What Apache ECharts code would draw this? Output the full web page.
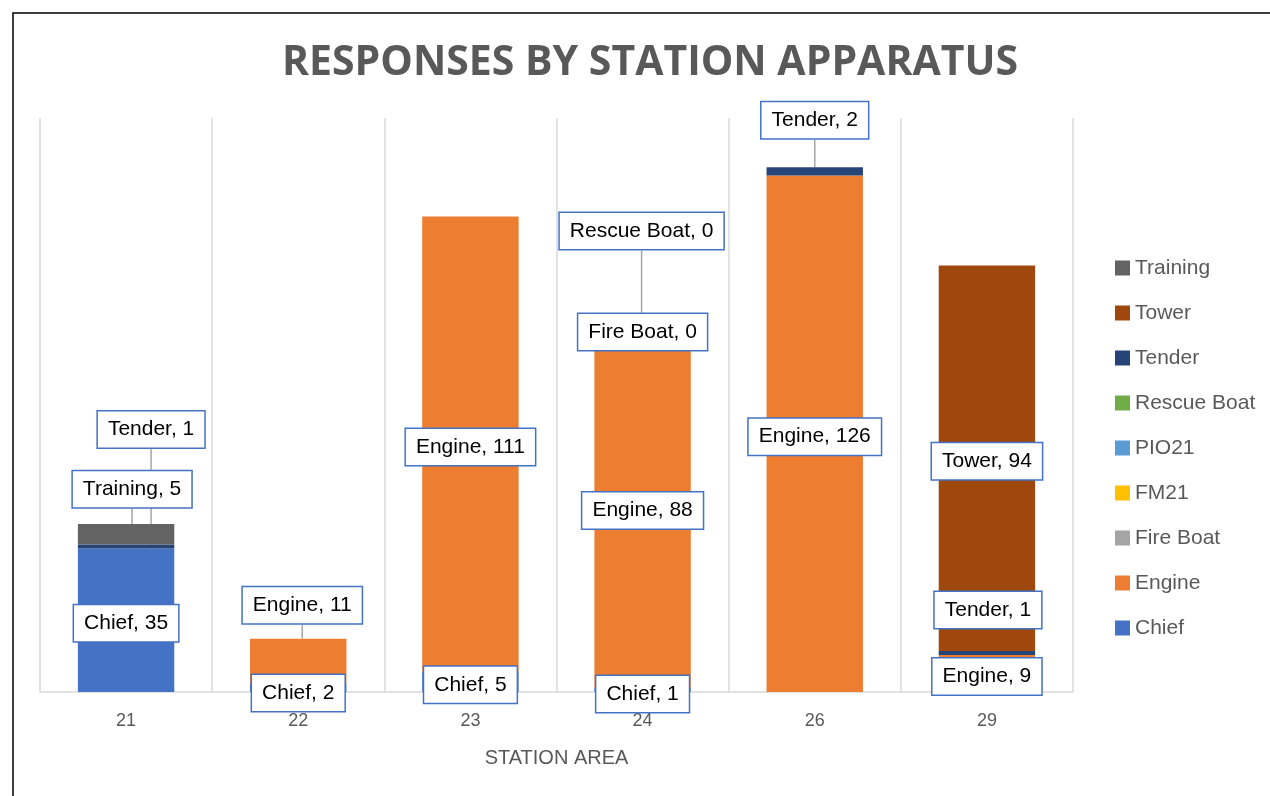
<!DOCTYPE html>
<html>
<head>
<meta charset="utf-8">
<title>Responses by Station Apparatus</title>
<script src="https://cdn.jsdelivr.net/npm/echarts@6/dist/echarts.min.js"></script>
<style>
html, body { margin: 0; padding: 0; background: #fff; }
#chart { width: 1270px; height: 796px; }
</style>
</head>
<body>
<div id="chart"></div>
<script>
"use strict";

var stations = ['21', '22', '23', '24', '26', '29'];

var chief      = [35, 2, 5, 1, null, null];
var engine     = [null, 11, 111, 88, 126, 9];
var fireBoat   = [null, null, null, 0, null, null];
var fm21       = [null, null, null, null, null, null];
var pio21      = [null, null, null, null, null, null];
var rescueBoat = [null, null, null, 0, null, null];
var tender     = [1, null, null, null, 2, 1];
var tower      = [null, null, null, null, null, 94];
var training   = [5, null, null, null, null, null];

var seriesNames = ['Chief', 'Engine', 'Fire Boat', 'FM21', 'PIO21', 'Rescue Boat', 'Tender', 'Tower', 'Training'];
var seriesValues = [chief, engine, fireBoat, fm21, pio21, rescueBoat, tender, tower, training];
var seriesColors = ['#4472C4', '#ED7D31', '#A5A5A5', '#FFC000', '#5B9BD5', '#70AD47', '#264478', '#9E480E', '#636363'];

// label moves (dx, dy) as placed by hand in the original, keyed by series then station index
var LABEL_MOVES = {
	'Chief': { 1: [0, 2], 3: [0, 1] },
	'Engine': { 1: [4, -59] },
	'Fire Boat': { 3: [0, 2] },
	'Rescue Boat': { 3: [-1, -99] },
	'Tender': { 0: [25, -120], 4: [0, -54], 5: [1, -46] },
	'Training': { 0: [6, -48] }
};
var LINE_FOR = { 'Engine': true, 'Rescue Boat': true, 'Tender': true, 'Training': true };
var BASE_DY = 3;

var LABEL_FONT = 'Liberation Sans, Arial, sans-serif';

function buildSeries() {
	var list = [];
	for (var s = 0; s < seriesNames.length; s++) {
		(function(name, values, color) {
			var moves = LABEL_MOVES[name] || {};
			var data = [];
			for (var i = 0; i < values.length; i++) {
				var item = { value: values[i] };
				if (LINE_FOR[name] && moves[i] && values[i] !== null) {
					item.labelLine = { show: true };
				}
				data.push(item);
			}
			list.push({
				name: name,
				type: 'bar',
				stack: 'total',
				barWidth: '56%',
				itemStyle: { color: color },
				label: {
					show: true,
					position: 'inside',
					formatter: '{a}, {c}',
					color: '#000',
					fontFamily: LABEL_FONT,
					fontSize: 21,
					backgroundColor: '#fff',
					borderColor: '#4472C4',
					borderWidth: 1.5,
					padding: [8, 10, 7, 10]
				},
				labelLine: {
					show: false,
					lineStyle: { color: '#A6A6A6', width: 1.5 }
				},
				labelLayout: function(params) {
					var m = moves[params.dataIndex] || [0, 0];
					return { dx: m[0], dy: m[1] + BASE_DY };
				},
				data: data
			});
		})(seriesNames[s], seriesValues[s], seriesColors[s]);
	}
	return list;
}

var chart = echarts.init(document.getElementById('chart'));

chart.setOption({
	animation: false,
	backgroundColor: '#fff',
	title: {
		text: 'RESPONSES BY STATION APPARATUS',
		left: 645,
		textAlign: 'center',
		top: 38,
		textStyle: {
			fontFamily: 'Open Sans, sans-serif',
			fontWeight: 'bold',
			fontSize: 41,
			color: '#595959'
		}
	},
	graphic: [{
		type: 'rect',
		shape: { x: 13, y: 13, width: 1300, height: 820 },
		style: { fill: null, stroke: '#000', lineWidth: 1.5 },
		silent: true,
		z: 100
	}],
	legend: {
		orient: 'vertical',
		left: 1110,
		top: 252,
		itemWidth: 15,
		itemHeight: 15,
		itemGap: 23,
		icon: 'rect',
		data: seriesNames.slice().reverse(),
		textStyle: {
			fontFamily: LABEL_FONT,
			fontSize: 21,
			lineHeight: 22,
			color: '#595959'
		}
	},
	grid: {
		left: 40,
		right: 197,
		top: 118,
		bottom: 104,
		containLabel: false
	},
	xAxis: {
		type: 'category',
		data: stations,
		name: 'STATION AREA',
		nameLocation: 'middle',
		nameGap: 56,
		nameTextStyle: {
			fontFamily: LABEL_FONT,
			fontSize: 20,
			color: '#595959'
		},
		axisLine: { lineStyle: { color: '#D9D9D9', width: 1.5 } },
		axisTick: { show: false },
		axisLabel: {
			margin: 20,
			fontFamily: LABEL_FONT,
			fontSize: 18,
			color: '#595959'
		},
		splitLine: { show: true, lineStyle: { color: '#D9D9D9', width: 1.5 } }
	},
	yAxis: {
		type: 'value',
		min: 0,
		max: 140,
		axisLine: { show: false },
		axisTick: { show: false },
		axisLabel: { show: false },
		splitLine: { show: false }
	},
	series: buildSeries()
});
</script>
</body>
</html>
